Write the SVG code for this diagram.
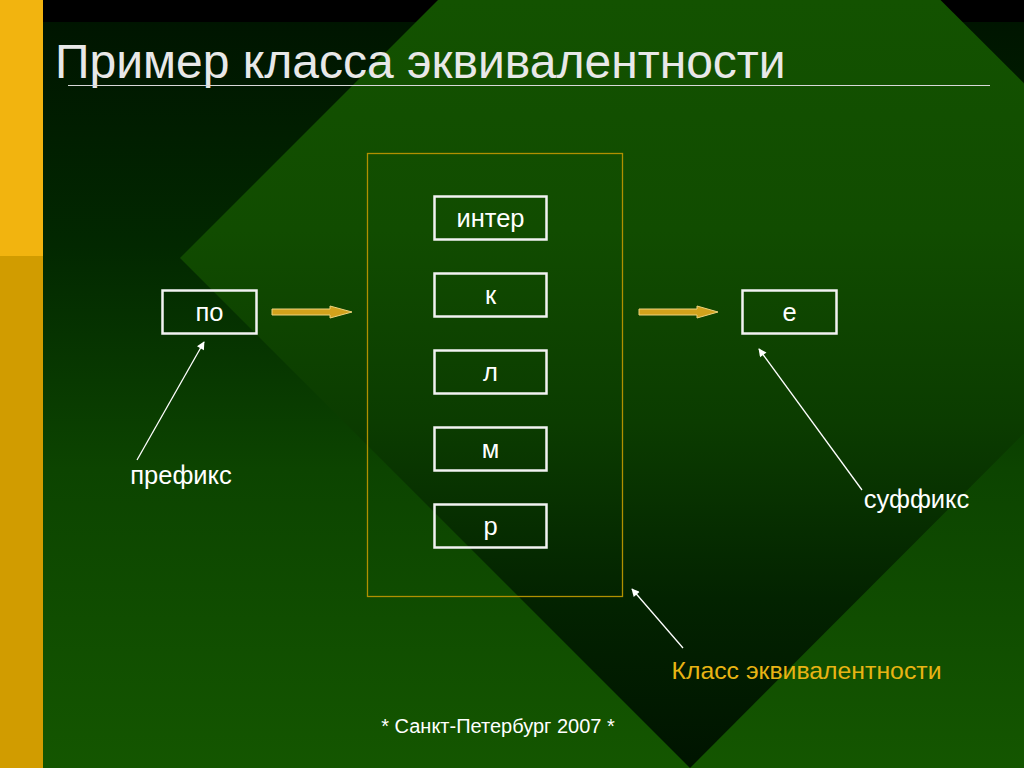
<svg xmlns="http://www.w3.org/2000/svg" width="1024" height="768" viewBox="0 0 1024 768">
  <defs>
    <linearGradient id="bgGrad" gradientUnits="userSpaceOnUse" x1="0" y1="22" x2="0" y2="768">
      <stop offset="0" stop-color="#001500"/>
      <stop offset="0.3" stop-color="#022800"/>
      <stop offset="0.6" stop-color="#0c4400"/>
      <stop offset="1" stop-color="#145600"/>
    </linearGradient>
    <linearGradient id="diaGrad" gradientUnits="userSpaceOnUse" x1="0" y1="0" x2="0" y2="768">
      <stop offset="0" stop-color="#135200"/>
      <stop offset="0.3" stop-color="#114c00"/>
      <stop offset="0.55" stop-color="#0b3c00"/>
      <stop offset="0.78" stop-color="#032300"/>
      <stop offset="1" stop-color="#001400"/>
    </linearGradient>
    <marker id="ptr" viewBox="0 0 10 10" refX="9" refY="5" markerWidth="10" markerHeight="8" markerUnits="userSpaceOnUse" orient="auto">
      <path d="M0,0 L10,5 L0,10 Z" fill="#ffffff"/>
    </marker>
    <style>
      .box { fill: none; stroke: #f2f2f2; stroke-width: 2.5; }
      .txt { font-family: "Liberation Sans", Arial, sans-serif; fill: #ffffff; font-size: 25.5px; }
      .lbl { font-size: 25.5px; }
      .mid { text-anchor: middle; }
      .ptr { stroke: #ffffff; stroke-width: 1.3; fill: none; marker-end: url(#ptr); }
      .blk { fill: #D2A21C; stroke: #EDD27C; stroke-width: 1; }
    </style>
  </defs>

  <!-- background -->
  <rect x="0" y="0" width="1024" height="768" fill="url(#bgGrad)"/>
  <rect x="0" y="0" width="1024" height="22" fill="#000000"/>
  <polygon points="180,258 689,-251 1199,258 690,768" fill="url(#diaGrad)"/>
  <rect x="0" y="0" width="43" height="256" fill="#F2B40F"/>
  <rect x="0" y="256" width="43" height="512" fill="#D19C00"/>

  <!-- title -->
  <text x="55" y="78" font-family="Liberation Sans, Arial, sans-serif" font-size="48" fill="#e8e8e8">Пример класса эквивалентности</text>
  <line x1="68" y1="85.5" x2="990" y2="85.5" stroke="#d8d8d8" stroke-width="1.2"/>

  <!-- container -->
  <g id="container">
    <rect x="367.5" y="153.5" width="255" height="443" fill="none" stroke="#B09000" stroke-width="1.3"/>
  </g>

  <g id="node-inter">
    <rect class="box" x="434.5" y="196.5" width="112" height="43"/>
    <text class="txt mid" x="490.5" y="226.5">интер</text>
  </g>
  <g id="node-k">
    <rect class="box" x="434.5" y="273.5" width="112" height="43"/>
    <text class="txt mid" x="490.5" y="303.5">к</text>
  </g>
  <g id="node-l">
    <rect class="box" x="434.5" y="350.5" width="112" height="43"/>
    <text class="txt mid" x="490.5" y="380.5">л</text>
  </g>
  <g id="node-m">
    <rect class="box" x="434.5" y="427.5" width="112" height="43"/>
    <text class="txt mid" x="490.5" y="457.5">м</text>
  </g>
  <g id="node-r">
    <rect class="box" x="434.5" y="504.5" width="112" height="43"/>
    <text class="txt mid" x="490.5" y="534.5">р</text>
  </g>
  <g id="node-po">
    <rect class="box" x="162.5" y="290.5" width="94" height="43"/>
    <text class="txt mid" x="209.5" y="320.5">по</text>
  </g>
  <g id="node-e">
    <rect class="box" x="742.5" y="290.5" width="94" height="43"/>
    <text class="txt mid" x="789.5" y="320.5">е</text>
  </g>

  <g id="labels">
    <text class="txt lbl mid" x="181" y="484">префикс</text>
    <text class="txt lbl mid" x="916.5" y="507.5">суффикс</text>
    <text class="txt mid" x="806.5" y="678.5" style="fill:#E8B414;font-size:24.8px">Класс эквивалентности</text>
    <text class="txt mid" x="498" y="733" style="font-size:20px">* Санкт-Петербург 2007 *</text>
  </g>

  <g id="connectors">
    <polygon class="blk" points="272,309 330,309 330,306 352,312 330,318 330,315 272,315"/>
    <polygon class="blk" points="639,309 697,309 697,306 718,312 697,318 697,315 639,315"/>
    <line class="ptr" x1="137" y1="460" x2="204" y2="342"/>
    <line class="ptr" x1="862" y1="490" x2="759" y2="349"/>
    <line class="ptr" x1="683" y1="648" x2="632" y2="589"/>
  </g>
</svg>
